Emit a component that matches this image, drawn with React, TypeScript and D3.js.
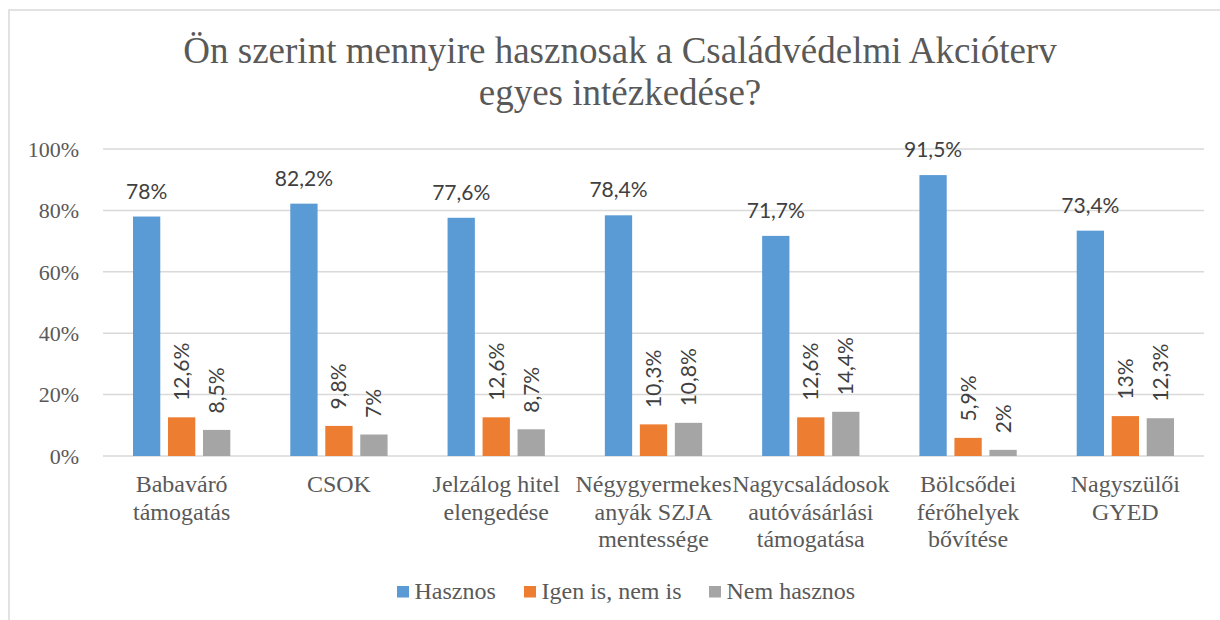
import React from "react";
import * as d3 from "d3";

const title = ["Ön szerint mennyire hasznosak a Családvédelmi Akcióterv", "egyes intézkedése?"];
const categories = [
  "Babaváró\ntámogatás",
  "CSOK",
  "Jelzálog hitel\nelengedése",
  "Négygyermekes\nanyák SZJA\nmentessége",
  "Nagycsaládosok\nautóvásárlási\ntámogatása",
  "Bölcsődei\nférőhelyek\nbővítése",
  "Nagyszülői\nGYED",
];
const seriesNames = ["Hasznos", "Igen is, nem is", "Nem hasznos"];
const hasznos = [78, 82.2, 77.6, 78.4, 71.7, 91.5, 73.4];
const igenIs = [12.6, 9.8, 12.6, 10.3, 12.6, 5.9, 13];
const nemHasznos = [8.5, 7, 8.7, 10.8, 14.4, 2, 12.3];
const yTicks = [0, 20, 40, 60, 80, 100];
const colors = ["#5B9BD5", "#ED7D31", "#A5A5A5"];

const W = 1220;
const H = 620;
const plot = { left: 103, right: 1204, top: 149, bottom: 456 };
const SERIF = "'Liberation Serif', serif";
const SANS = "Lato, sans-serif";
const BASE = 30; // all serif text is laid out at one size, then scaled by CSS

const fmt = (v: number) => String(Math.round(v * 10) / 10).replace(".", ",") + "%";

// HTML serif label: (x, y) is the first baseline, anchor start/middle/end
function SerifLabel(props: {
  x: number;
  y: number;
  size: number;
  anchor?: "start" | "middle" | "end";
  lines: string[];
  lineGap?: number;
}) {
  const s = props.size / BASE;
  const lh = (props.lineGap ?? props.size * 1.15) / s;
  const baseOff = (lh - 1.107 * BASE) / 2 + 0.891 * BASE;
  const anchor = props.anchor ?? "start";
  const ax = anchor === "middle" ? "-50%" : anchor === "end" ? "-100%" : "0px";
  return (
    <div
      style={{
        position: "absolute",
        left: 0,
        top: 0,
        fontFamily: SERIF,
        fontSize: `${BASE}px`,
        lineHeight: `${lh}px`,
        color: "#595959",
        whiteSpace: "pre",
        textAlign: anchor === "middle" ? "center" : anchor === "end" ? "right" : "left",
        transformOrigin: "0 0",
        transform: `translate(${props.x}px, ${props.y}px) scale(${s}) translate(${ax}, ${-baseOff}px)`,
      }}
    >
      {props.lines.join("\n")}
    </div>
  );
}

export default function App() {
  const series = [hasznos, igenIs, nemHasznos];
  const x = d3.scaleBand<string>().domain(categories).range([plot.left, plot.right]).paddingInner(0).paddingOuter(0);
  const bw = x.bandwidth();
  const inner = d3
    .scaleBand<string>()
    .domain(seriesNames)
    .range([bw * 0.1907, bw * 0.8093])
    .paddingInner(0.22)
    .paddingOuter(0);
  const y = d3.scaleLinear().domain([0, 100]).range([plot.bottom, plot.top]);

  const legendX = [397, 524, 709];

  return (
    <div style={{ position: "absolute", left: 0, top: 0, width: W, height: H, overflow: "hidden", background: "#fff" }}>
      <svg width={W} height={H} style={{ position: "absolute", left: 0, top: 0 }}>
        <rect x={0} y={0} width={W} height={H} fill="#fff" />
        <path d={`M9,${H + 5} L9,10 L${W + 5},10`} fill="none" stroke="#d9d9d9" strokeWidth={1.5} />

        {/* gridlines */}
        {yTicks.map((t) => (
          <line key={t} x1={plot.left} x2={plot.right} y1={y(t)} y2={y(t)} stroke="#d9d9d9" strokeWidth={1.5} />
        ))}

        {/* legend keys */}
        {seriesNames.map((n, i) => (
          <rect key={n} x={legendX[i]} y={586} width={12} height={11.5} fill={colors[i]} />
        ))}

        {/* bars + value labels */}
        <g fontFamily={SANS} fill="#404040">
          {series.map((vals, si) =>
            vals.map((v, ci) => {
              const bx = (x(categories[ci]) as number) + (inner(seriesNames[si]) as number);
              const w = inner.bandwidth();
              const top = y(v);
              const cx = bx + w / 2;
              return (
                <g key={`${si}-${ci}`}>
                  <rect x={bx} y={top} width={w} height={plot.bottom - top} fill={colors[si]} />
                  {si === 0 ? (
                    <text x={cx} y={top - 18} textAnchor="middle" fontSize={21}>
                      {fmt(v)}
                    </text>
                  ) : (
                    <text
                      transform={`translate(${cx},${top - 16.5}) rotate(-90)`}
                      dy={7.5}
                      textAnchor="start"
                      fontSize={21}
                    >
                      {fmt(v)}
                    </text>
                  )}
                </g>
              );
            })
          )}
        </g>
      </svg>

      {/* title */}
      <SerifLabel x={620} y={63} size={37} anchor="middle" lines={title} lineGap={42} />

      {/* y-axis labels */}
      {yTicks.map((t) => (
        <SerifLabel key={t} x={79} y={y(t) + 8} size={22} anchor="end" lines={[`${t}%`]} />
      ))}

      {/* category labels */}
      {categories.map((c) => (
        <SerifLabel
          key={c}
          x={(x(c) as number) + bw / 2}
          y={plot.bottom + 36}
          size={24}
          anchor="middle"
          lines={c.split("\n")}
          lineGap={27.7}
        />
      ))}

      {/* legend texts */}
      {seriesNames.map((n, i) => (
        <SerifLabel key={n} x={legendX[i] + 17.5} y={599.3} size={24} lines={[n]} />
      ))}
    </div>
  );
}
